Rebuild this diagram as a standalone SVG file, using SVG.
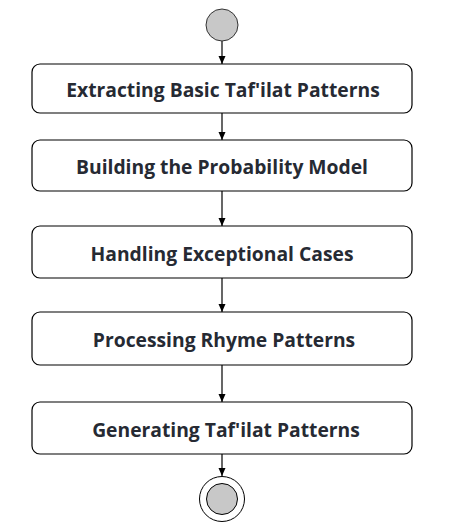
<svg xmlns="http://www.w3.org/2000/svg" width="452" height="529" viewBox="0 0 452 529">
<defs>
<style>
.box{fill:#fff;stroke:#000;stroke-width:1.2}
.lbl{font-family:"Open Sans","Noto Sans","Liberation Sans",sans-serif;font-weight:bold;font-size:19.3px;fill:#262a33;text-anchor:middle}
.conn{stroke:#000;stroke-width:1.2;fill:none;marker-end:url(#arr)}
</style>
<marker id="arr" viewBox="0 0 8 8" refX="8" refY="4" markerWidth="8" markerHeight="8" markerUnits="userSpaceOnUse" orient="auto">
<path d="M0,0.5 L8,4 L0,7.5 z" fill="#000"/>
</marker>
</defs>
<rect width="452" height="529" fill="#fff"/>
<g id="connectors">
<line class="conn" x1="222" y1="41" x2="222" y2="64"/>
<line class="conn" x1="222" y1="113" x2="222" y2="140"/>
<line class="conn" x1="222" y1="191" x2="222" y2="226"/>
<line class="conn" x1="222" y1="278" x2="222" y2="312"/>
<line class="conn" x1="222" y1="365" x2="222" y2="402"/>
<line class="conn" x1="222" y1="454" x2="222" y2="476"/>
</g>
<g id="start">
<circle cx="222" cy="25" r="16" fill="#c8c8c8" stroke="#333" stroke-width="1"/>
</g>
<g id="n1">
<rect class="box" x="32" y="64" width="380" height="49" rx="8"/>
<text class="lbl" x="223" y="97">Extracting Basic Taf'ilat Patterns</text>
</g>
<g id="n2">
<rect class="box" x="32" y="140" width="380" height="51" rx="8"/>
<text class="lbl" x="222" y="174">Building the Probability Model</text>
</g>
<g id="n3">
<rect class="box" x="32" y="226" width="380" height="52" rx="8"/>
<text class="lbl" x="222" y="260.5">Handling Exceptional Cases</text>
</g>
<g id="n4">
<rect class="box" x="32" y="312" width="380" height="53" rx="8"/>
<text class="lbl" x="224" y="347">Processing Rhyme Patterns</text>
</g>
<g id="n5">
<rect class="box" x="32" y="402" width="380" height="52" rx="8"/>
<text class="lbl" x="226" y="436.5">Generating Taf'ilat Patterns</text>
</g>
<g id="end">
<circle cx="222" cy="499" r="22.5" fill="#fff" stroke="#000" stroke-width="1"/>
<circle cx="222" cy="499" r="15.5" fill="#c8c8c8" stroke="#000" stroke-width="1"/>
</g>
</svg>
